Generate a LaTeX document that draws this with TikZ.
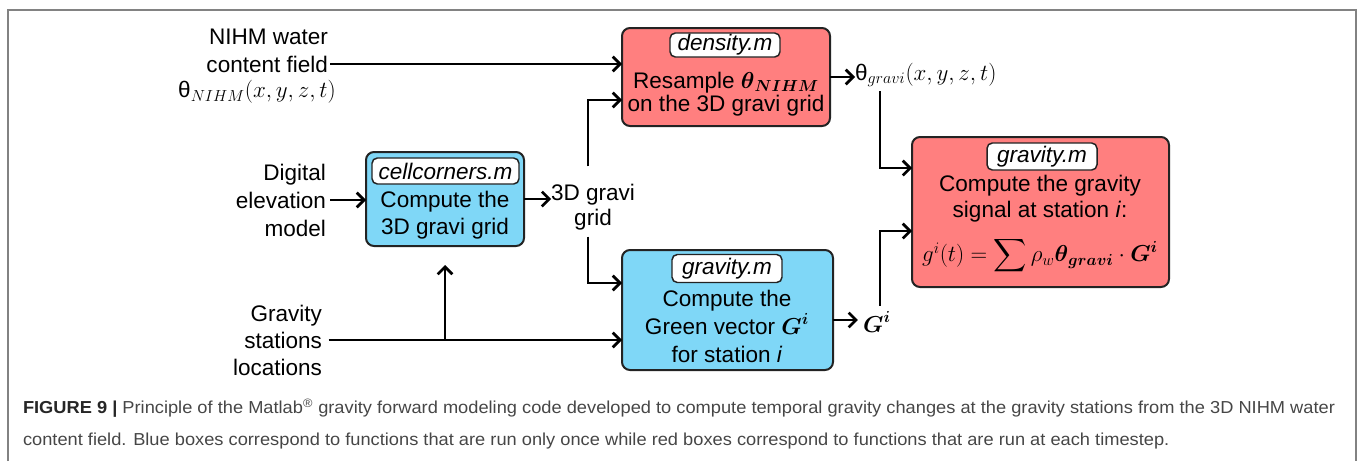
\documentclass[tikz,border=0pt]{standalone}
\usepackage{fontspec}
\setmainfont{Liberation Sans}
\usepackage{amsmath}
\usepackage{graphicx}
\usetikzlibrary{arrows.meta,fit,calc}
\definecolor{boxred}{RGB}{255,127,127}
\definecolor{boxblue}{RGB}{127,215,247}
\definecolor{edgecol}{RGB}{35,35,35}
\definecolor{framegray}{RGB}{130,130,130}
\definecolor{captxt}{RGB}{70,70,70}
\newlength\capwidth
\newcommand\capone{\textbf{\color{black!85}FIGURE 9 |} Principle of the Matlab\textsuperscript{®} gravity forward modeling code developed to compute temporal gravity changes at the gravity stations from the 3D NIHM water}
\begin{document}
\begin{tikzpicture}[x=0.75pt,y=-0.75pt,
  every node/.style={inner sep=0pt, outer sep=0pt},
  txt/.style={font=\fontsize{16.9}{20}\selectfont},
  redbox/.style={draw=edgecol, line width=1.5pt, fill=boxred, rounded corners=6pt, inner sep=0pt},
  bluebox/.style={draw=edgecol, line width=1.5pt, fill=boxblue, rounded corners=6pt, inner sep=0pt},
  tagbox/.style={draw=edgecol, line width=1.1pt, fill=white, rounded corners=4pt, inner sep=0pt, minimum width=82.5pt, minimum height=19.5pt, font=\fontsize{16.9}{20}\selectfont\itshape},
  arr/.style={line width=2pt, draw=black, -{Straight Barb[length=5.5pt,width=11pt]}},
]
\useasboundingbox (0,0) rectangle (1358,461);
\draw[framegray, line width=1.5pt] (8,461) -- (8,10) -- (1356,10) -- (1356,461);

% boxes
\node[redbox, fit={(622,28)(830,126)}] (den) {};
\node[tagbox, minimum height=18pt] (denl) at (725,45) {density.m};
\node[txt, align=center, font=\fontsize{16.9}{17.25}\selectfont] (dent) at (726,94) {Resample $\boldsymbol{\theta}_{\boldsymbol{NIHM}}$\\on the 3D gravi grid};

\node[bluebox, fit={(366,152)(524,246)}] (cc) {};
\node[tagbox, minimum width=110.25pt] (ccl) at (445.5,171) {cellcorners.m};
\node[txt, align=center, font=\fontsize{16.9}{20.25}\selectfont] (cct) at (445,215.5) {Compute the\\3D gravi grid};

\node[bluebox, fit={(622,250)(833,370)}] (grv) {};
\node[tagbox, minimum height=21pt] (grvl) at (727,268.5) {gravity.m};
\node[txt, align=center, font=\fontsize{16.9}{21}\selectfont] (grvt) at (727,326.5) {Compute the\\Green vector $\boldsymbol{G}^{\boldsymbol{i}}$\\for station \textit{i}};

\node[redbox, fit={(912,137)(1169,287)}] (grr) {};
\node[tagbox, minimum height=20.25pt] (grrl) at (1042,156.5) {gravity.m};
\node[txt, align=center, font=\fontsize{16.9}{19.5}\selectfont] (grrt) at (1040,199) {Compute the gravity\\signal at station \textit{i}:};
\node[txt] (grrf) at (1040,256) {$g^{i}(t)=\displaystyle\sum\rho_w\boldsymbol{\theta}_{\boldsymbol{gravi}}\cdot\boldsymbol{G}^{\boldsymbol{i}}$};

% input / output texts
\node[txt, anchor=east] (nihmA) at (328,37) {NIHM water};
\node[txt, anchor=east] (nihmB) at (328,64) {content field};
\node[txt] (nihmC) at (257,92) {θ$_{NIHM}(x,y,z,t)$};
\node[txt, align=right, anchor=east, font=\fontsize{16.9}{21}\selectfont] (dem) at (326,200) {Digital\\elevation\\model};
\node[txt, align=right, anchor=east, font=\fontsize{16.9}{20.25}\selectfont] (gs) at (322,340) {Gravity\\stations\\locations};
\node[txt, align=center, font=\fontsize{16.9}{19}\selectfont] (grid) at (593,207.5) {3D gravi\\grid};
\node[txt, anchor=west] (tg) at (855,75) {θ$_{gravi}(x,y,z,t)$};
\node[txt] (gi) at (877,322) {$\boldsymbol{G}^{\boldsymbol{i}}$};

% connectors
\draw[arr] ([xshift=1.5pt]nihmB.east) -- (nihmB.east -| den.west);
\draw[arr] ([xshift=3pt]dem.east) -- (dem.east -| cc.west);
\draw[arr] (cc.east) -- (cc.east -| grid.west);
\draw[arr] ($(grid.north)+(-5,-18)$) |- ($(den.west)+(0,23)$);
\draw[arr] ($(grid.south)+(-5,6)$) |- ($(grv.west)+(0,-27)$);
\draw[arr] ([xshift=5pt]gs.east) -- (gs.east -| grv.west);
\draw[arr] (gs.east -| cc.south) -- ($(cc.south)+(0,19)$);
\draw[arr] (den.east) -- (den.east -| tg.west);
\draw[arr] ($(tg.west)+(25,16)$) |- ($(grr.west)+(0,-44)$);
\coordinate (gvo) at ($(grv.east)+(0,10)$);
\draw[arr] (gvo) -- ([xshift=-4pt]gvo -| gi.west);
\draw[arr] ($(gi.north)+(3,-6)$) |- ($(grr.west)+(0,19)$);

% caption
\node[anchor=west, text=captxt, font=\fontsize{13}{15}\selectfont] (cap1) at (23,408) {\settowidth\capwidth{\capone}\pgfmathsetmacro\capscale{984/\capwidth}\global\let\capscaleg\capscale\scalebox{\capscale}[1]{\capone}};
\node[anchor=west, text=captxt, font=\fontsize{13}{15}\selectfont] (cap2) at (23,441) {\scalebox{\capscaleg}[1]{content field. Blue boxes correspond to functions that are run only once while red boxes correspond to functions that are run at each timestep.}};
\end{tikzpicture}
\end{document}
